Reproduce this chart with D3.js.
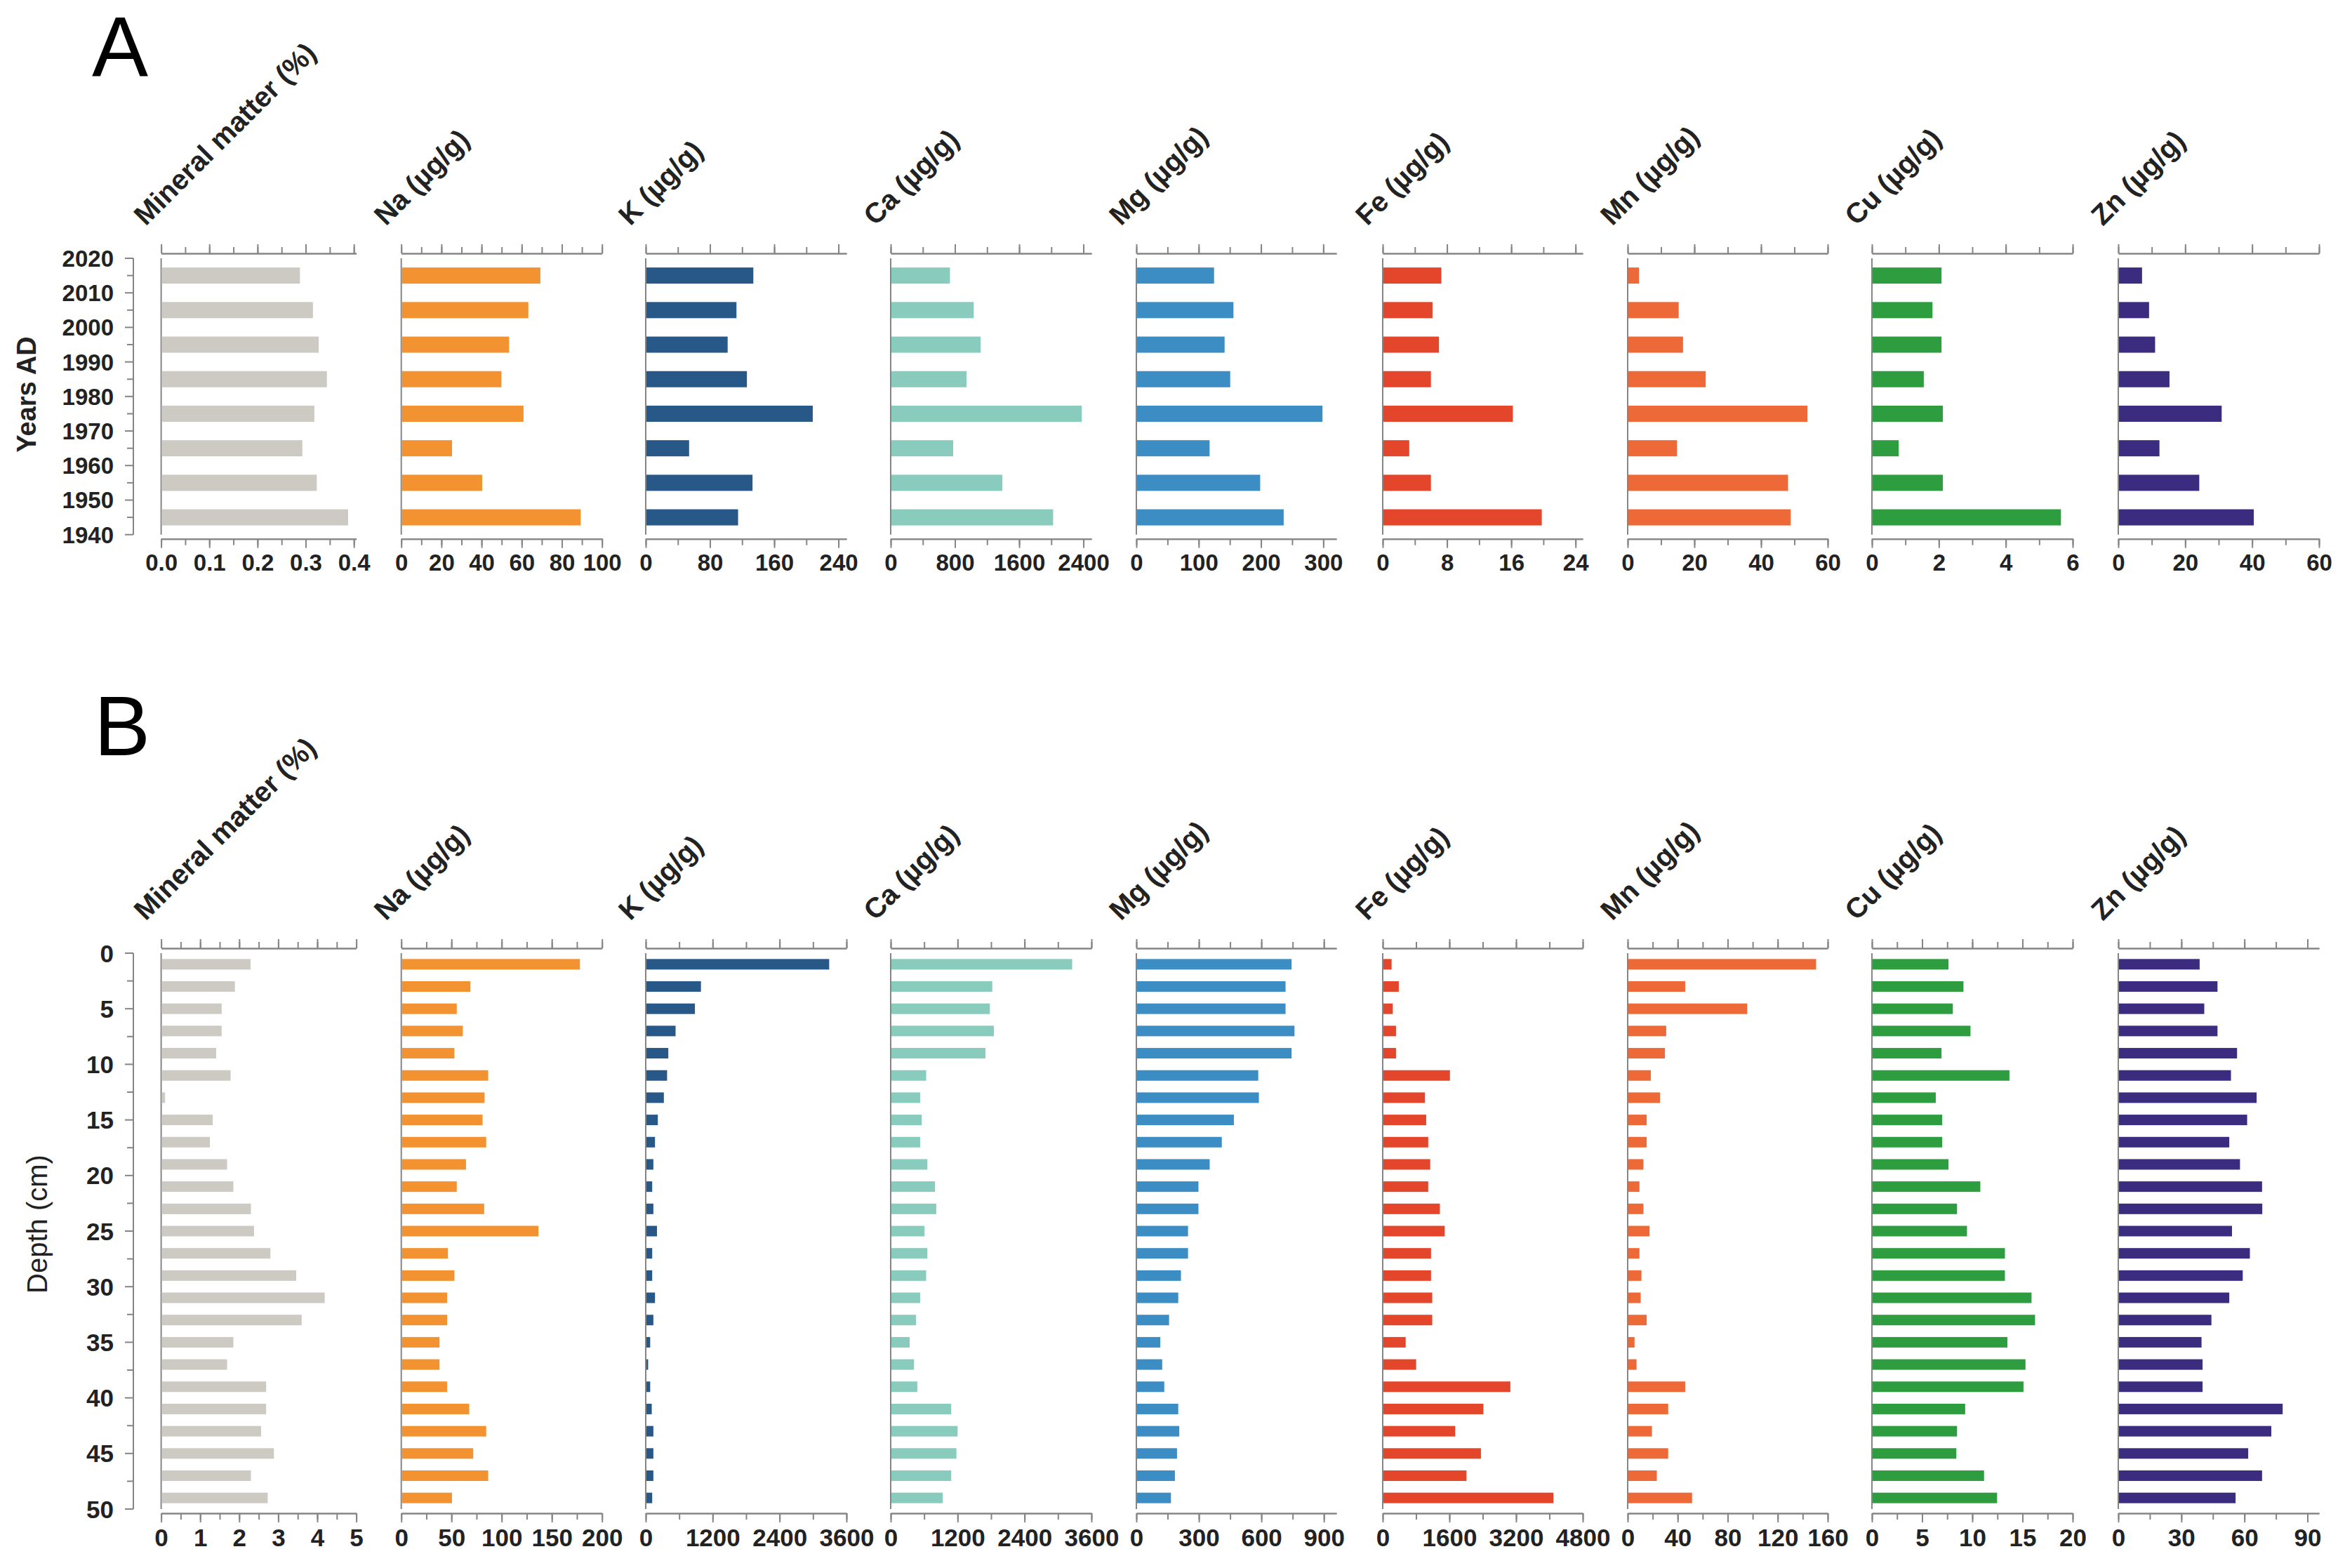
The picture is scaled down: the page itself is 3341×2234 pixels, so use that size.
<!DOCTYPE html>
<html>
<head>
<meta charset="utf-8">
<script src="https://cdn.jsdelivr.net/npm/d3@7"></script>
<style>
  body { margin: 0; background: #fff; }
  text { font-family: "Liberation Sans", Arial, sans-serif; }
</style>
</head>
<body>
<div id="chart"></div>
<script>
// element panels, same order in both rows
var titles = ["Mineral matter (%)", "Na (µg/g)", "K (µg/g)", "Ca (µg/g)", "Mg (µg/g)",
              "Fe (µg/g)", "Mn (µg/g)", "Cu (µg/g)", "Zn (µg/g)"];
var colors = ["#cdc9c3", "#f39230", "#285887", "#89cbbc", "#3b8dc4",
              "#e4462b", "#ed6937", "#2e9d40", "#3c2c80"];

/* A: years AD */
var years = [2015, 2005, 1995, 1985, 1975, 1965, 1955, 1945];
var mineralA = [0.288, 0.315, 0.327, 0.344, 0.318, 0.293, 0.323, 0.388];
var naA = [69.3, 63.3, 53.7, 49.9, 60.9, 25.3, 40.3, 89.4];
var kA = [134, 113, 102, 126, 208, 54, 133, 115];
var caA = [738, 1034, 1120, 944, 2380, 778, 1391, 2023];
var mgA = [124.7, 155.8, 141.6, 150.6, 298.7, 117.5, 198.7, 236.4];
var feA = [7.3, 6.2, 7.0, 6.0, 16.2, 3.3, 6.0, 19.8];
var mnA = [3.4, 15.3, 16.6, 23.4, 53.9, 14.8, 48.1, 48.9];
var cuA = [2.08, 1.81, 2.08, 1.55, 2.12, 0.80, 2.12, 5.65];
var znA = [7.1, 9.2, 11.0, 15.3, 30.9, 12.3, 24.2, 40.5];

var yearTicks = [1940, 1950, 1960, 1970, 1980, 1990, 2000, 2010, 2020];
var ticksA = [[0, 0.1, 0.2, 0.3, 0.4], [0, 20, 40, 60, 80, 100], [0, 80, 160, 240], [0, 800, 1600, 2400],
              [0, 100, 200, 300], [0, 8, 16, 24], [0, 20, 40, 60], [0, 2, 4, 6], [0, 20, 40, 60]];
var minorA = [0.05, 10, 40, 400, 50, 4, 10, 1, 10];
var axisMaxA = [0.405, 100, 250, 2500, 321, 24.9, 60, 6, 60];

/* B: depth (cm) */
var depths = [1, 3, 5, 7, 9, 11, 13, 15, 17, 19, 21, 23, 25, 27, 29, 31, 33, 35, 37, 39, 41, 43, 45, 47, 49];
var mineralB = [2.29, 1.89, 1.55, 1.55, 1.41, 1.78, 0.10, 1.32, 1.25, 1.69, 1.85, 2.30, 2.38,
                2.80, 3.46, 4.19, 3.60, 1.85, 1.69, 2.69, 2.69, 2.56, 2.89, 2.30, 2.73];
var naB = [178, 68.9, 55.3, 61.3, 52.9, 86.6, 83.0, 81.0, 84.6, 64.5, 55.3, 82.6, 136.7,
           46.5, 52.9, 45.7, 45.7, 38.1, 38.1, 45.7, 67.7, 84.6, 71.7, 86.6, 50.5];
var kB = [3290, 990, 882, 535, 405, 383, 325, 217, 166, 137, 116, 137, 202,
          116, 116, 166, 137, 80, 43, 80, 108, 137, 137, 137, 116];
var caB = [3254, 1822, 1779, 1851, 1699, 636, 528, 557, 528, 658, 795, 817, 607,
           658, 636, 528, 455, 340, 419, 477, 1085, 1200, 1179, 1085, 933];
var mgB = [745, 716, 716, 759, 745, 585, 588, 468, 410, 352, 298, 298, 248,
           248, 214, 201, 157, 115, 124, 134, 201, 206, 195, 185, 166];
var feB = [213, 386, 242, 319, 319, 1613, 1014, 1043, 1092, 1140, 1092, 1372, 1488,
           1159, 1159, 1188, 1188, 551, 802, 3063, 2415, 1739, 2357, 2010, 4097];
var mnB = [150.7, 46.0, 95.6, 30.8, 29.8, 18.5, 25.9, 15.2, 15.2, 12.6, 9.4, 12.6, 17.5,
           9.4, 11.0, 10.4, 15.2, 5.5, 7.1, 46.0, 32.4, 19.4, 32.4, 23.3, 51.5];
var cuB = [7.63, 9.12, 8.06, 9.82, 6.93, 13.7, 6.36, 7.0, 7.0, 7.63, 10.8, 8.48, 9.47,
           13.25, 13.25, 15.9, 16.25, 13.5, 15.3, 15.1, 9.29, 8.48, 8.41, 11.17, 12.47];
var znB = [38.7, 47.2, 40.9, 47.2, 56.5, 53.6, 65.8, 61.3, 52.8, 57.9, 68.4, 68.5, 54.1,
           62.6, 59.2, 52.8, 44.3, 39.6, 40.1, 40.1, 78.2, 72.8, 61.8, 68.4, 55.8];

var depthTicks = [0, 5, 10, 15, 20, 25, 30, 35, 40, 45, 50];
var ticksB = [[0, 1, 2, 3, 4, 5], [0, 50, 100, 150, 200], [0, 1200, 2400, 3600], [0, 1200, 2400, 3600],
              [0, 300, 600, 900], [0, 1600, 3200, 4800], [0, 40, 80, 120, 160], [0, 5, 10, 15, 20], [0, 30, 60, 90]];
var minorB = [0.5, 25, 600, 600, 150, 800, 20, 2.5, 15];
var axisMaxB = [5, 200, 3600, 3600, 960, 4800, 160, 20, 95.5];

var seriesA = [mineralA, naA, kA, caA, mgA, feA, mnA, cuA, znA];
var seriesB = [mineralB, naB, kB, caB, mgB, feB, mnB, cuB, znB];

// layout
var W = 3341, H = 2234;
var panelX = [229.6, 571.7, 920, 1269, 1619, 1970, 2319, 2667, 3018];
var panelW = [278, 286, 286, 286, 285, 285, 285, 286, 286];
var axisColor = "#858585";

var svg = d3.select("#chart")
  .append("svg")
    .attr("width", W)
    .attr("height", H);

svg.append("rect").attr("width", W).attr("height", H).attr("fill", "#fff");

function drawRow(opt) {
  var g = svg.append("g");
  var y = d3.scaleLinear().domain(opt.yDomain).range(opt.yRange);
  var topY = opt.yRange[0] - 7, botY = opt.yRange[1] + 6;

  // big letter
  g.append("text")
    .attr("x", opt.letterX).attr("y", opt.letterY)
    .style("font-size", "120px")
    .text(opt.letter);

  // vertical axis on the left
  var ax = g.append("g").attr("transform", "translate(190,0)");
  ax.append("line")
    .attr("y1", y(opt.yDomain[0])).attr("y2", y(opt.yDomain[1]))
    .attr("stroke", axisColor).attr("stroke-width", 2);
  ax.selectAll(".ymin")
    .data(opt.yMinor)
    .enter().append("line")
      .attr("x1", -9).attr("x2", 0)
      .attr("y1", function(d) { return y(d); }).attr("y2", function(d) { return y(d); })
      .attr("stroke", axisColor).attr("stroke-width", 2);
  ax.selectAll(".ymaj")
    .data(opt.yTicks)
    .enter().append("line")
      .attr("x1", -12).attr("x2", 0)
      .attr("y1", function(d) { return y(d); }).attr("y2", function(d) { return y(d); })
      .attr("stroke", axisColor).attr("stroke-width", 2);
  ax.selectAll(".ylab")
    .data(opt.yTicks)
    .enter().append("text")
      .attr("x", -28)
      .attr("y", function(d) { return y(d); })
      .attr("dy", "0.36em")
      .attr("text-anchor", "end")
      .style("font-size", opt.tickSize)
      .style("font-weight", "bold")
      .style("fill", "#222")
      .text(function(d) { return d; });

  g.append("text")
    .attr("transform", "translate(" + opt.yTitleX + "," + opt.yTitleY + ")rotate(-90)")
    .attr("text-anchor", "middle")
    .style("font-size", opt.yTitleSize)
    .style("font-weight", opt.yTitleWeight)
    .style("fill", "#222")
    .text(opt.yTitle);

  // one panel per element
  titles.forEach(function(title, i) {
    var x0 = panelX[i];
    var x = d3.scaleLinear().domain([0, opt.axisMax[i]]).range([x0, x0 + panelW[i]]);
    var major = opt.ticks[i];
    var last = major[major.length - 1];
    var minor = d3.range(0, last + opt.minor[i] / 2, opt.minor[i]);
    var fmt = (i == 0 && opt.letter == "A") ? d3.format(".1f") : d3.format("d");

    [["top", topY], ["bottom", botY]].forEach(function(side) {
      var mk = side[0] == "top" ? d3.axisTop : d3.axisBottom;
      var minorAxis = g.append("g")
        .attr("transform", "translate(0," + side[1] + ")")
        .call(mk(x).tickValues(minor).tickSize(9).tickSizeOuter(0).tickFormat(""));
      var majorAxis = g.append("g")
        .attr("transform", "translate(0," + side[1] + ")")
        .call(mk(x).tickValues(major).tickSize(13).tickSizeOuter(0)
              .tickFormat(side[0] == "top" ? "" : fmt));
      [minorAxis, majorAxis].forEach(function(a) {
        a.selectAll("path").attr("stroke", axisColor).attr("stroke-width", 2);
        a.selectAll(".tick line").attr("stroke", axisColor).attr("stroke-width", 2);
      });
      majorAxis.selectAll(".tick text")
        .attr("y", 22)
        .attr("dy", "0.71em")
        .style("font-size", opt.tickSize)
        .style("font-weight", "bold")
        .style("font-family", "'Liberation Sans', Arial, sans-serif")
        .attr("fill", "#222");
    });

    // left edge line of the panel
    g.append("line")
      .attr("x1", x(0)).attr("x2", x(0))
      .attr("y1", y(opt.yDomain[0])).attr("y2", y(opt.yDomain[1]))
      .attr("stroke", axisColor).attr("stroke-width", 2);

    // rotated header
    g.append("text")
      .attr("transform", "translate(" + (x0 - 22) + "," + (topY - 38) + ")rotate(-45)")
      .style("font-size", "40px")
      .style("font-weight", "bold")
      .style("fill", "#222")
      .text(title);

    // bars
    var vals = opt.series[i];
    g.selectAll(".bar" + i)
      .data(opt.cats)
      .enter().append("rect")
        .attr("x", x(0) + 1)
        .attr("y", function(d) { return y(d) - opt.barH / 2; })
        .attr("width", function(d, j) { return Math.max(0, x(vals[j]) - x(0) - 1); })
        .attr("height", opt.barH)
        .attr("fill", colors[i]);
  });
}

drawRow({
  letter: "A", letterX: 131, letterY: 108,
  yDomain: [2020, 1940], yRange: [368, 761.7],
  yTicks: yearTicks, yMinor: [1945, 1955, 1965, 1975, 1985, 1995, 2005, 2015],
  yTitle: "Years AD", yTitleX: 51, yTitleY: 562, yTitleSize: "38px", yTitleWeight: "bold",
  ticks: ticksA, minor: minorA, axisMax: axisMaxA, tickSize: "33px",
  cats: years, series: seriesA, barH: 23
});

drawRow({
  letter: "B", letterX: 134, letterY: 1076,
  yDomain: [0, 50], yRange: [1358, 2150],
  yTicks: depthTicks, yMinor: [2.5, 7.5, 12.5, 17.5, 22.5, 27.5, 32.5, 37.5, 42.5, 47.5],
  yTitle: "Depth (cm)", yTitleX: 67, yTitleY: 1744, yTitleSize: "40px", yTitleWeight: "normal",
  ticks: ticksB, minor: minorB, axisMax: axisMaxB, tickSize: "35px",
  cats: depths, series: seriesB, barH: 15
});
</script>
</body>
</html>
